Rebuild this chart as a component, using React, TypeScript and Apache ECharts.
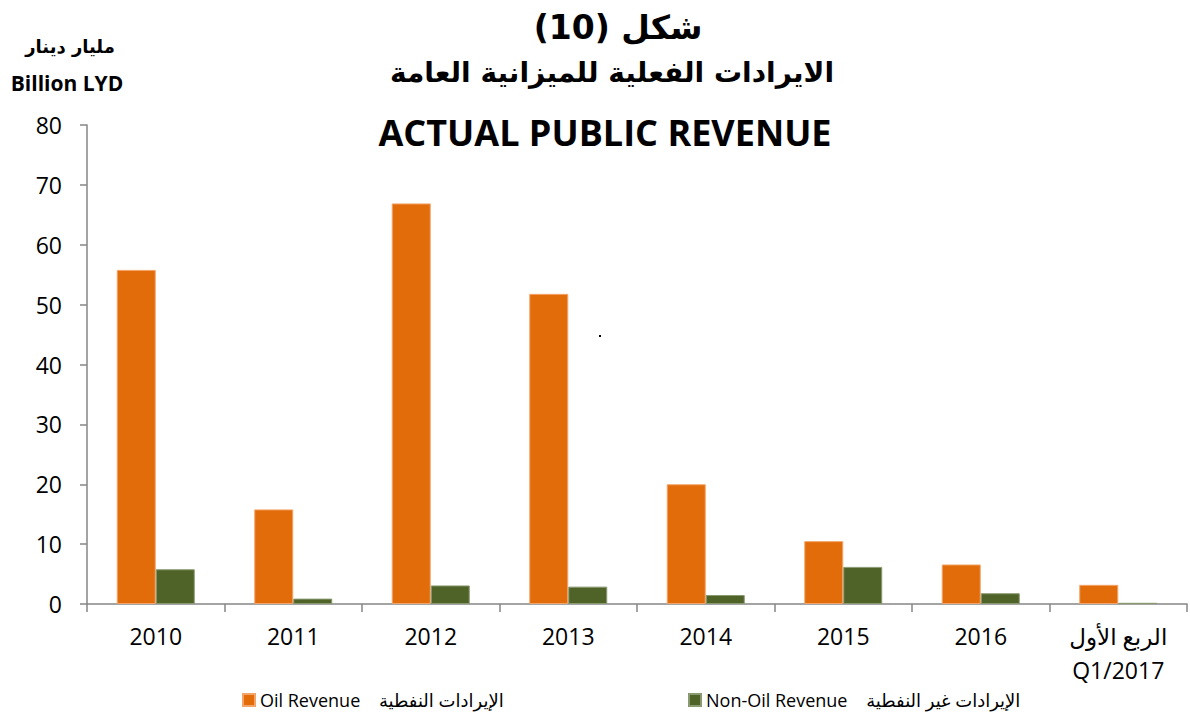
import React, { useEffect, useRef } from "react";
import * as echarts from "echarts";

const categories = ["2010", "2011", "2012", "2013", "2014", "2015", "2016", "الربع الأول\nQ1/2017"];
const oilRevenue = [55.8, 15.8, 66.9, 51.8, 20.0, 10.5, 6.6, 3.2];
const nonOilRevenue = [5.8, 0.9, 3.1, 2.9, 1.5, 6.2, 1.8, 0.2];
const yTicks = { min: 0, max: 80, interval: 10 };
const oilName = "Oil Revenue    الإيرادات النفطية";
const nonOilName = "Non-Oil Revenue    الإيرادات غير النفطية";

export default function App() {
  const ref = useRef<HTMLDivElement>(null);
  useEffect(() => {
    if (!ref.current) return;
    const chart = echarts.init(ref.current, null, { renderer: "svg" });
    const axisColor = "#868686";
    const labelFont = "'Open Sans', 'DejaVu Sans'";
    chart.setOption({
      animation: false,
      backgroundColor: "#ffffff",
      grid: { left: 87, right: 3, top: 125, bottom: 111, containLabel: false, outerBoundsMode: "none" },
      graphic: [
        { type: "text", x: 618, y: 27, style: { text: "شكل (10)", align: "center", verticalAlign: "middle", font: "bold 33px 'DejaVu Sans'", fill: "#000" } },
        { type: "text", x: 612, y: 72, style: { text: "الايرادات الفعلية للميزانية العامة", align: "center", verticalAlign: "middle", font: "bold 28px 'DejaVu Sans'", fill: "#000" } },
        { type: "text", x: 605, y: 132, style: { text: "ACTUAL PUBLIC REVENUE", align: "center", verticalAlign: "middle", font: "bold 36px 'Open Sans'", fill: "#000" } },
        { type: "text", x: 70, y: 46, style: { text: "مليار دينار", align: "center", verticalAlign: "middle", font: "bold 18px 'DejaVu Sans'", fill: "#000" } },
        { type: "text", x: 67, y: 83, style: { text: "Billion LYD", align: "center", verticalAlign: "middle", font: "bold 21px 'Open Sans'", fill: "#000" } },
        { type: "rect", shape: { x: 599, y: 335, width: 2, height: 2 }, style: { fill: "#000" } },
      ],
      legend: [
        {
          data: [oilName], left: 237, top: 686, itemWidth: 12, itemHeight: 12, icon: "rect",
          textStyle: { fontFamily: labelFont, fontSize: 18, color: "#000" },
        },
        {
          data: [nonOilName], left: 683, top: 686, itemWidth: 12, itemHeight: 12, icon: "rect",
          textStyle: { fontFamily: labelFont, fontSize: 18, color: "#000" },
        },
      ],
      xAxis: {
        type: "category",
        data: categories,
        boundaryGap: true,
        axisLine: { lineStyle: { color: axisColor, width: 1.5 } },
        axisTick: { show: true, length: 8, lineStyle: { color: axisColor, width: 1.5 }, alignWithLabel: false },
        axisLabel: { interval: 0, margin: 15, fontFamily: labelFont, fontSize: 23, color: "#000", lineHeight: 34 },
      },
      yAxis: {
        type: "value",
        min: yTicks.min,
        max: yTicks.max,
        interval: yTicks.interval,
        splitLine: { show: false },
        axisLine: { show: true, lineStyle: { color: axisColor, width: 1.5 } },
        axisTick: { show: true, length: 7, lineStyle: { color: axisColor, width: 1.5 } },
        axisLabel: { margin: 25, fontFamily: labelFont, fontSize: 23, color: "#000" },
      },
      series: [
        {
          name: oilName, type: "bar", data: oilRevenue, barWidth: 39, barGap: "0%",
          itemStyle: { color: "#E36C0A", borderColor: "#F3A46A", borderWidth: 1 },
        },
        {
          name: nonOilName, type: "bar", data: nonOilRevenue, barWidth: 39, barGap: "0%",
          itemStyle: { color: "#4F6228", borderColor: "#8A9A70", borderWidth: 1 },
        },
      ],
    });
    return () => chart.dispose();
  }, []);
  return <div ref={ref} style={{ width: 1190, height: 715, position: "absolute", left: 0, top: 0 }} />;
}
